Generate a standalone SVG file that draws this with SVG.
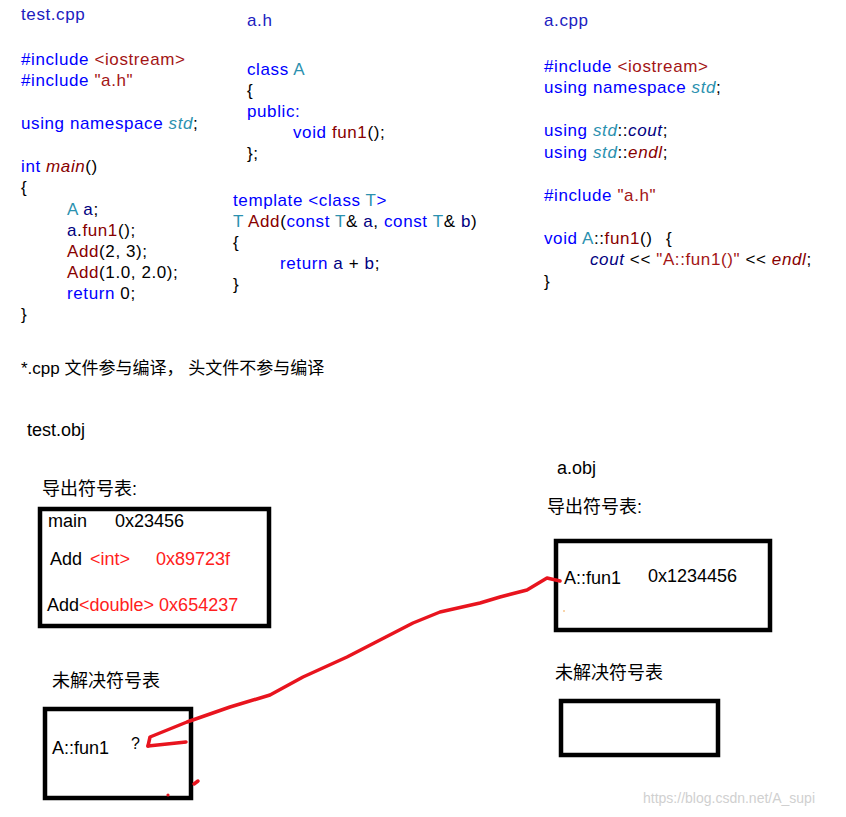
<svg xmlns="http://www.w3.org/2000/svg" width="846" height="817" viewBox="0 0 846 817">
<style>
.c{font-family:"Liberation Sans",Arial,sans-serif;font-size:17px;letter-spacing:0.6px;fill:#000}
.t{font-family:"Liberation Sans","Noto Sans CJK SC",sans-serif;font-size:18px;fill:#000}
.kw{fill:#0000ff}.ttl{fill:#2020c0}.str{fill:#a31515}.ty{fill:#2b91af}.fn{fill:#880000}.v{fill:#000080}.i{font-style:italic}
.red{fill:#ff2020}
.box{fill:none;stroke:#000;stroke-width:4.5}
.pen{fill:none;stroke:#e8141e;stroke-width:3.5;stroke-linecap:round;stroke-linejoin:round}
</style>
<rect width="846" height="817" fill="#fff"/>
<g id="test_cpp" class="c">
<text x="21" y="20" class="ttl">test.cpp</text>
<text x="21" y="65"><tspan class="kw">#include </tspan><tspan class="str">&lt;iostream&gt;</tspan></text>
<text x="21" y="86"><tspan class="kw">#include </tspan><tspan class="str">"a.h"</tspan></text>
<text x="21" y="129"><tspan class="kw">using namespace </tspan><tspan class="ty i">std</tspan>;</text>
<text x="21" y="172"><tspan class="kw">int </tspan><tspan class="fn i">main</tspan>()</text>
<text x="21" y="193">{</text>
<text x="67" y="215"><tspan class="ty">A </tspan><tspan class="v">a</tspan>;</text>
<text x="67" y="236"><tspan class="v">a</tspan>.<tspan class="fn">fun1</tspan>();</text>
<text x="67" y="257"><tspan class="fn">Add</tspan>(2, 3);</text>
<text x="67" y="278"><tspan class="fn">Add</tspan>(1.0, 2.0);</text>
<text x="67" y="299"><tspan class="kw">return </tspan>0;</text>
<text x="21" y="320">}</text>
</g>
<g id="a_h" class="c">
<text x="247" y="26" class="ttl">a.h</text>
<text x="247" y="75"><tspan class="kw">class </tspan><tspan class="ty">A</tspan></text>
<text x="247" y="96">{</text>
<text x="247" y="117" class="kw">public:</text>
<text x="293" y="138"><tspan class="kw">void </tspan><tspan class="fn">fun1</tspan>();</text>
<text x="247" y="159">};</text>
<text x="233" y="206"><tspan class="kw">template &lt;class </tspan><tspan class="ty">T</tspan><tspan class="kw">&gt;</tspan></text>
<text x="233" y="227"><tspan class="ty">T </tspan><tspan class="fn">Add</tspan>(<tspan class="kw">const </tspan><tspan class="ty">T</tspan>&amp; <tspan class="v">a</tspan>, <tspan class="kw">const </tspan><tspan class="ty">T</tspan>&amp; <tspan class="v">b</tspan>)</text>
<text x="233" y="248">{</text>
<text x="280" y="269"><tspan class="kw">return </tspan><tspan class="v">a</tspan> + <tspan class="v">b</tspan>;</text>
<text x="233" y="290">}</text>
</g>
<g id="a_cpp" class="c">
<text x="544" y="26" class="ttl">a.cpp</text>
<text x="544" y="72"><tspan class="kw">#include </tspan><tspan class="str">&lt;iostream&gt;</tspan></text>
<text x="544" y="93"><tspan class="kw">using namespace </tspan><tspan class="ty i">std</tspan>;</text>
<text x="544" y="136"><tspan class="kw">using </tspan><tspan class="ty i">std</tspan>::<tspan class="v i">cout</tspan>;</text>
<text x="544" y="158"><tspan class="kw">using </tspan><tspan class="ty i">std</tspan>::<tspan class="fn i">endl</tspan>;</text>
<text x="544" y="201"><tspan class="kw">#include </tspan><tspan class="str">"a.h"</tspan></text>
<text x="544" y="244"><tspan class="kw">void </tspan><tspan class="ty">A</tspan>::<tspan class="fn">fun1</tspan>()<tspan x="666">{</tspan></text>
<text x="590" y="265"><tspan class="v i">cout</tspan> &lt;&lt; <tspan class="str">"A::fun1()"</tspan> &lt;&lt; <tspan class="fn i">endl</tspan>;</text>
<text x="544" y="287">}</text>
</g>
<g id="note" class="t">
<text x="21" y="374" style="font-size:17px">*.cpp 文件参与编译， 头文件不参与编译</text>
<text x="27" y="436">test.obj</text>
<text x="557" y="474">a.obj</text>
</g>
<g id="test_export">
<text x="42" y="495" class="t">导出符号表:</text>
<rect x="40" y="509" width="229" height="117" class="box"/>
<text x="48" y="527" class="t">main<tspan x="115">0x23456</tspan></text>
<text x="50" y="565" class="t">Add <tspan class="red" x="90">&lt;int&gt;</tspan><tspan class="red" x="156">0x89723f</tspan></text>
<text x="47" y="611" class="t">Add<tspan class="red">&lt;double&gt; 0x654237</tspan></text>
</g>
<g id="a_export">
<text x="547" y="513" class="t">导出符号表:</text>
<rect x="556" y="541" width="214" height="89" class="box"/>
<text x="564" y="584" class="t">A::fun1<tspan x="648" y="582">0x1234456</tspan></text>
<circle cx="564" cy="611" r="0.8" fill="#f0a040"/>
</g>
<g id="test_unresolved">
<text x="52" y="687" class="t">未解决符号表</text>
<rect x="45" y="709" width="146" height="89" class="box"/>
<text x="52" y="754" class="t">A::fun1</text>
<text x="131" y="749" class="t" style="font-size:16px">?</text>
</g>
<g id="a_unresolved">
<text x="555" y="679" class="t">未解决符号表</text>
<rect x="561" y="701" width="157" height="54" class="box"/>
</g>
<g id="connectors">
<path class="pen" d="M560,581 L547,578 L527,590 L500,597 L480,603 L440,612 L413,623 L380,640 L347,657 L303,677 L270,695 L230,707 L187,722 L150,737 L148,746"/>
<path class="pen" d="M148,746 L186,742"/>
<circle cx="168" cy="795" r="1.6" fill="#e8141e"/>
<path class="pen" d="M194,784 L198,781"/>
</g>
<text x="643" y="803" style="font-family:'Liberation Sans',sans-serif;font-size:14px;fill:#d0d0d0">https://blog.csdn.net/A_supi</text>
</svg>
